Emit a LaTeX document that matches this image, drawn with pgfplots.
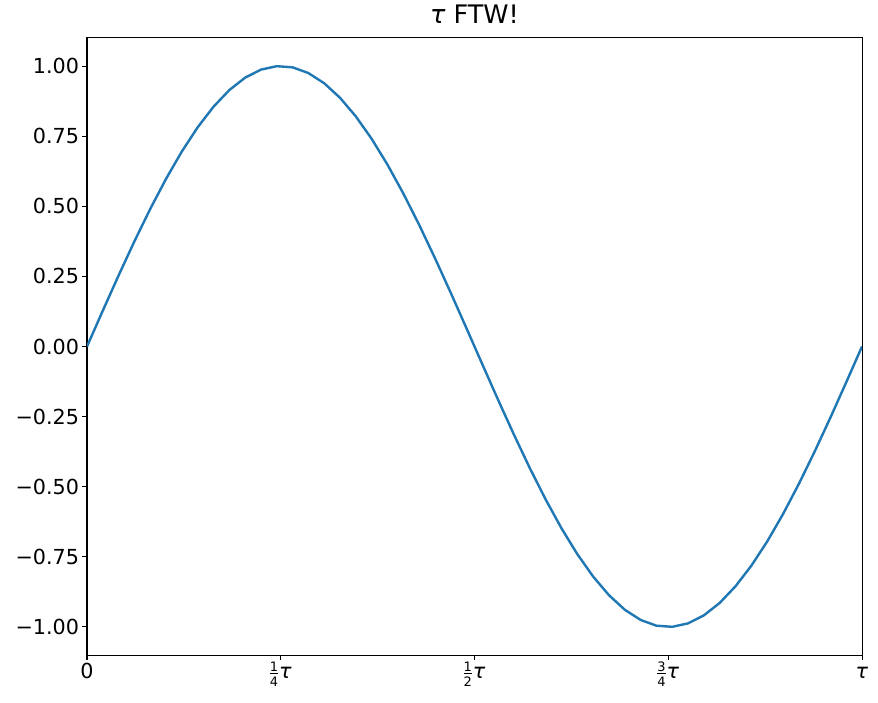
\documentclass[border=0pt]{standalone}
\usepackage{fontspec}
\setmainfont{DejaVu Sans}
\usepackage{pgfplots}
\pgfplotsset{compat=1.18}
\definecolor{mplblue}{HTML}{1F77B4}
\newcommand{\myfrac}[2]{{\fontsize{13}{13}\selectfont\setbox0\hbox{#1}\rlap{\raisebox{7pt}{#1}}\rlap{\raisebox{-8.3pt}{#2}}\rule[4pt]{\wd0}{0.8pt}}\kern1pt}
\begin{document}
\begin{tikzpicture}
\begin{axis}[
  name=ax,
  scale only axis,
  width=775pt, height=617pt,
  xmin=0, xmax=49, ymin=-1.1, ymax=1.1,
  axis line style={line width=1pt},
  tick align=outside,
  major tick length=4.5pt,
  tick style={black, line width=1pt},
  xtick pos=left, ytick pos=left,
  xtick={0,12.25,24.5,36.75,49},
  xticklabels={0, {\myfrac{1}{4}\textit{τ}}, {\myfrac{1}{2}\textit{τ}}, {\myfrac{3}{4}\textit{τ}}, \textit{τ}},
  ytick={-1,-0.75,-0.5,-0.25,0,0.25,0.5,0.75,1},
  yticklabels={−1.00,−0.75,−0.50,−0.25,0.00,0.25,0.50,0.75,1.00},
  ticklabel style={font=\fontsize{20.7}{24}\selectfont},
  xticklabel style={text height=15pt},
  title={\textit{τ} FTW!},
  title style={font=\fontsize{25.5}{30}\selectfont, at={(0.5,1)}, anchor=base, yshift=8pt},
]
\addplot[mplblue, line width=2.4pt, line join=round] coordinates {
(0,0) (1,0.1279) (2,0.2537) (3,0.3753) (4,0.4907) (5,0.5981) (6,0.6957) (7,0.7818)
(8,0.8551) (9,0.9144) (10,0.9587) (11,0.9872) (12,0.9995) (13,0.9954) (14,0.9749)
(15,0.9385) (16,0.8866) (17,0.8202) (18,0.7403) (19,0.6482) (20,0.5455) (21,0.4339)
(22,0.3151) (23,0.1912) (24,0.0641) (25,-0.0641) (26,-0.1912) (27,-0.3151) (28,-0.4339)
(29,-0.5455) (30,-0.6482) (31,-0.7403) (32,-0.8202) (33,-0.8866) (34,-0.9385) (35,-0.9749)
(36,-0.9954) (37,-0.9995) (38,-0.9872) (39,-0.9587) (40,-0.9144) (41,-0.8551) (42,-0.7818)
(43,-0.6957) (44,-0.5981) (45,-0.4907) (46,-0.3753) (47,-0.2537) (48,-0.1279) (49,0)
};
\end{axis}
\pgfresetboundingbox
\path ([xshift=-87pt,yshift=-47pt]ax.south west) rectangle ([xshift=16pt,yshift=38pt]ax.north east);
\end{tikzpicture}
\end{document}
